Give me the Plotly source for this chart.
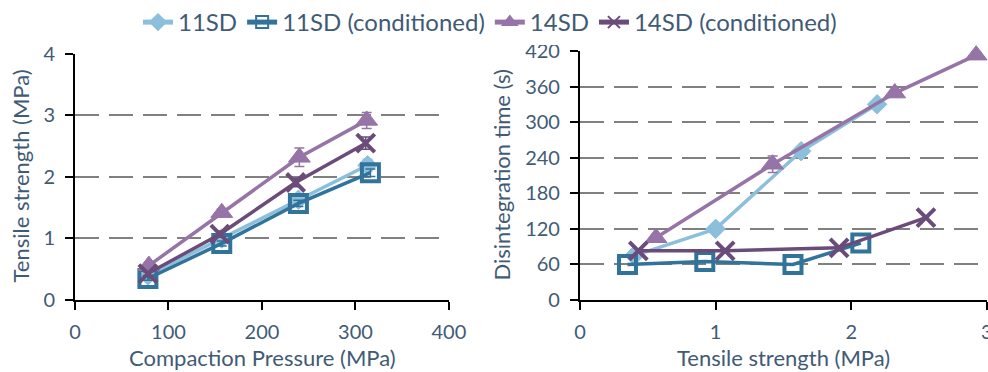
import plotly.graph_objects as go

# ---- data ----
pressure_11 = [78, 157, 239, 313]
pressure_11c = [78, 157, 239, 316]
pressure_14 = [79, 157, 240, 312]
pressure_14c = [78, 155, 236, 311]

ts_11 = [0.40, 1.00, 1.63, 2.19]
ts_11c = [0.35, 0.92, 1.57, 2.07]
ts_14 = [0.56, 1.42, 2.32, 2.92]
ts_14c = [0.43, 1.07, 1.91, 2.55]

ts_err_11 = [0.03, 0.05, 0.06, 0.10]
ts_err_11c = [0.03, 0.04, 0.05, 0.06]
ts_err_14 = [0.04, 0.06, 0.15, 0.13]
ts_err_14c = [0.03, 0.05, 0.07, 0.10]

dt_11 = [75, 120, 251, 330]
dt_11c = [60, 65, 60, 96]
dt_14 = [105, 229, 349, 413]
dt_14c = [83, 83, 88, 139]
dt_err_14 = [4, 14, 6, 5]

names = ["11SD", "11SD (conditioned)", "14SD", "14SD (conditioned)"]
x_titles = ["Compaction Pressure (MPa)", "Tensile strength (MPa)"]
y_titles = ["Tensile strength (MPa)", "Disintegration time (s)"]
x2_last_tick = 3

colors = ["#8cbfdb", "#31739a", "#9674a7", "#6b4b7a"]
symbols = ["diamond", "square-open", "triangle-up", "x-thin"]
msizes = [15, 17, 19, 18]

TXT = "#3f5b76"
FONT = "Lato"

fig = go.Figure()

left = [(pressure_11, ts_11, ts_err_11), (pressure_11c, ts_11c, ts_err_11c),
        (pressure_14, ts_14, ts_err_14), (pressure_14c, ts_14c, ts_err_14c)]
right = [(ts_11, dt_11, None), (ts_11c, dt_11c, None),
         (ts_14, dt_14, dt_err_14), (ts_14c, dt_14c, None)]

def marker(i):
    return dict(symbol=symbols[i], size=msizes[i], color=colors[i],
                line=dict(color=colors[i], width=4 if i in (1, 3) else 1))

for i in range(4):
    x, y, e = left[i]
    fig.add_trace(go.Scatter(
        x=x, y=y, name=names[i], mode="lines+markers",
        line=dict(color=colors[i], width=3.5),
        marker=marker(i),
        error_y=dict(type="data", array=e, visible=True, color=colors[i],
                     thickness=1.5, width=5),
        xaxis="x", yaxis="y", cliponaxis=False, legendgroup=names[i]))

for i in range(4):
    x, y, e = right[i]
    err = dict(type="data", array=e, visible=True, color=colors[i],
               thickness=1.5, width=5) if e is not None else None
    fig.add_trace(go.Scatter(
        x=x, y=y, name=names[i], mode="lines+markers",
        line=dict(color=colors[i], width=3.5),
        marker=marker(i),
        error_y=err,
        xaxis="x2", yaxis="y2", cliponaxis=False, legendgroup=names[i],
        showlegend=False))

axis_common = dict(
    showline=True, linecolor="black", linewidth=2,
    ticks="outside", ticklen=8, tickwidth=2, tickcolor="black",
    tickfont=dict(family=FONT, size=20, color=TXT),
    zeroline=False, automargin=False,
)
title_font = dict(family=FONT, size=22, color=TXT)

W, H = 988, 372
ML, MR, MT, MB = 75, 1, 50, 72
PW, PH = W - ML - MR, H - MT - MB

def px_x(p):
    return (p - ML) / PW

def px_y(p):
    return (H - MB - p) / PH

annotations = [
    dict(text=x_titles[0], x=px_x(262), y=px_y(358), xref="paper", yref="paper",
         showarrow=False, font=title_font, xanchor="center", yanchor="middle"),
    dict(text=x_titles[1], x=px_x(783), y=px_y(358), xref="paper", yref="paper",
         showarrow=False, font=title_font, xanchor="center", yanchor="middle"),
    dict(text=y_titles[0], x=px_x(20), y=px_y(176), xref="paper", yref="paper",
         showarrow=False, font=title_font, textangle=-90,
         xanchor="center", yanchor="middle"),
    dict(text=y_titles[1], x=px_x(501), y=px_y(175), xref="paper", yref="paper",
         showarrow=False, font=title_font, textangle=-90,
         xanchor="center", yanchor="middle"),
    # last tick label of the right x axis, half cut by the page edge as in the source
    dict(text=str(x2_last_tick), x=x2_last_tick, xref="x2", y=px_y(331), yref="paper",
         showarrow=False, font=dict(family=FONT, size=20, color=TXT),
         xanchor="center", yanchor="middle"),
]

fig.update_layout(
    width=W, height=H,
    margin=dict(l=ML, r=MR, t=MT, b=MB),
    paper_bgcolor="white", plot_bgcolor="white",
    font=dict(family=FONT, color=TXT),
    showlegend=True,
    legend=dict(orientation="h", x=px_x(490), xanchor="center",
                y=px_y(22), yanchor="middle",
                font=dict(family=FONT, size=24, color=TXT),
                tracegroupgap=0, traceorder="normal", itemsizing="constant"),
    annotations=annotations,
    xaxis=dict(domain=[0, 0.41], range=[0, 400], dtick=100, showgrid=False,
               ticklabelstandoff=5, anchor="y", **axis_common),
    yaxis=dict(domain=[0, 0.988], range=[0, 4], dtick=1, showgrid=True,
               gridcolor="#808080", gridwidth=2, griddash="24px,10px",
               ticklabelstandoff=6, anchor="x", **axis_common),
    xaxis2=dict(domain=[0.5537, 1], range=[0, 3], dtick=1, showgrid=False,
                ticklabelstandoff=5, anchor="y2", **axis_common),
    yaxis2=dict(domain=[0, 1], range=[0, 420], dtick=60, showgrid=True,
                gridcolor="#808080", gridwidth=2, griddash="24px,10px",
                ticklabelstandoff=6, anchor="x2", **axis_common),
)

fig.write_html("out.html", config={"displayModeBar": False},
               post_script="document.body.style.margin='0';")
